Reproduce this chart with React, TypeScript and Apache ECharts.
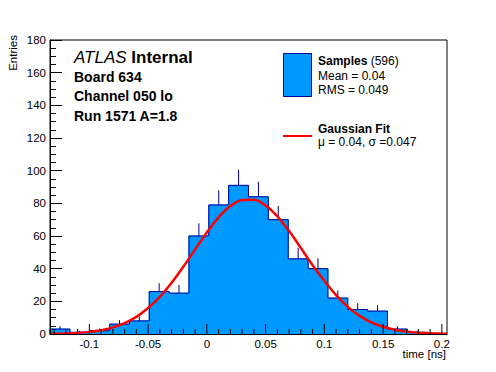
import React, { useEffect, useRef } from 'react';
import * as echarts from 'echarts';

// ---- data ----
const histMin = -0.1335;
const histMax = 0.2044;
const binCounts = [3, 1, 2, 6, 8, 26, 25, 60, 79, 91, 84, 70, 46, 40, 22, 15, 14, 3, 1, 0];

// Gaussian fit curve
const fitX = [-0.1335, -0.13, -0.12, -0.11, -0.1, -0.09, -0.08, -0.07, -0.06, -0.05, -0.04, -0.03, -0.02, -0.01, 0,
  0.01, 0.02, 0.03, 0.04, 0.05, 0.06, 0.07, 0.08, 0.09, 0.1, 0.11, 0.12, 0.13, 0.14, 0.15, 0.16, 0.17, 0.18, 0.19, 0.2, 0.2044];
const fitY = [0.13, 0.17, 0.35, 0.69, 1.3, 2.35, 4.05, 6.68, 10.5, 15.9, 22.8, 31.4, 41.2, 51.8, 62.2,
  71.4, 78.3, 82.1, 82.2, 78.7, 72.0, 63.0, 52.7, 42.1, 32.6, 23.8, 16.6, 11.1, 7.1, 4.4, 2.6, 1.45, 0.78, 0.4, 0.2, 0.14];

const xMajorTicks = [-0.1, -0.05, 0, 0.05, 0.1, 0.15, 0.2];
const xTickLabels = ['-0.1', '-0.05', '0', '0.05', '0.1', '0.15', '0.2'];
const xMinorTicks = [-0.13, -0.12, -0.11, -0.09, -0.08, -0.07, -0.06, -0.04, -0.03, -0.02, -0.01,
  0.01, 0.02, 0.03, 0.04, 0.06, 0.07, 0.08, 0.09, 0.11, 0.12, 0.13, 0.14, 0.16, 0.17, 0.18, 0.19];
const yMin = 0;
const yMax = 180;
const yStep = 20;

const titleLines = ['Board 634', 'Channel 050 lo', 'Run 1571 A=1.8'];
const sampleCount = 596;
const statLines = ['Mean = 0.04', 'RMS = 0.049'];
const fitLine = 'μ = 0.04, σ =0.047';

const FONT = '"Liberation Sans", Arial, Helvetica, sans-serif';
const FILL = '#0099ff';
const EDGE = '#000099';

export default function App() {
  const ref = useRef<HTMLDivElement>(null);
  useEffect(() => {
    document.body.style.margin = '0';
    const chart = echarts.init(ref.current!, undefined, { renderer: 'svg' });
    const binWidth = (histMax - histMin) / binCounts.length;
    const histData = binCounts.map((c, i) => [histMin + i * binWidth, histMin + (i + 1) * binWidth, c]);
    const tickData = [
      ...xMajorTicks.map((v, i) => [v, 1, i]),
      ...xMinorTicks.map((v) => [v, 0, -1]),
    ];
    const option: any = {
      animation: false,
      backgroundColor: '#fff',
      grid: {
        left: 50, top: 40, width: 397, height: 294,
        show: true, borderColor: '#000', borderWidth: 1,
        containLabel: false, outerBoundsMode: 'none',
      },
      xAxis: {
        type: 'value', min: histMin, max: histMax, z: 10,
        axisLine: { show: true, onZero: false, lineStyle: { color: '#000', width: 1 } },
        axisTick: { show: false }, axisLabel: { show: false }, splitLine: { show: false },
      },
      yAxis: {
        type: 'value', min: yMin, max: yMax, interval: yStep, z: 10,
        axisLine: { show: true, onZero: false, lineStyle: { color: '#000', width: 1 } },
        axisTick: { show: true, inside: true, length: 12, lineStyle: { color: '#000', width: 1 } },
        minorTick: { show: true, splitNumber: 4, length: 6, lineStyle: { color: '#000', width: 1 } },
        axisLabel: { margin: 4, fontSize: 11.5, color: '#000', fontFamily: FONT },
        splitLine: { show: false },
      },
      series: [
        {
          type: 'custom', z: 2, clip: false,
          data: histData,
          encode: { x: [0, 1], y: 2 },
          renderItem: (params: any, api: any) => {
            const i = params.dataIndex;
            const x0 = api.value(0), x1 = api.value(1), c = api.value(2);
            const prev = i > 0 ? binCounts[i - 1] : 0;
            const pTL = api.coord([x0, c]);
            const pBR = api.coord([x1, 0]);
            const pPrev = api.coord([x0, prev]);
            const children: any[] = [];
            if (c > 0) {
              children.push({ type: 'rect', shape: { x: pTL[0], y: pTL[1], width: pBR[0] - pTL[0], height: pBR[1] - pTL[1] }, style: { fill: FILL, stroke: FILL, lineWidth: 1 } });
            }
            children.push({ type: 'polyline', shape: { points: [[pPrev[0], pPrev[1]], [pTL[0], pTL[1]], [pBR[0], pTL[1]]] }, style: { stroke: EDGE, lineWidth: 1, fill: null } });
            if (i === binCounts.length - 1) {
              children.push({ type: 'line', shape: { x1: pBR[0], y1: pTL[1], x2: pBR[0], y2: pBR[1] }, style: { stroke: EDGE, lineWidth: 1 } });
            }
            if (c > 0) {
              const xc = (x0 + x1) / 2;
              const a = api.coord([xc, c]);
              const b = api.coord([xc, c + Math.sqrt(c)]);
              children.push({ type: 'line', shape: { x1: a[0], y1: a[1], x2: b[0], y2: b[1] }, style: { stroke: EDGE, lineWidth: 1 } });
            }
            return { type: 'group', children };
          },
        },
        {
          type: 'line', z: 4,
          data: fitX.map((x, i) => [x, fitY[i]]),
          showSymbol: false, smooth: 0.3,
          lineStyle: { color: '#ff0000', width: 2.5 },
          itemStyle: { color: '#ff0000' },
        },
        {
          type: 'custom', z: 6, clip: false,
          data: tickData,
          encode: { x: 0, y: 1 },
          renderItem: (params: any, api: any) => {
            const v = api.value(0);
            const major = api.value(1) === 1;
            const li = api.value(2);
            const p = api.coord([v, 0]);
            const len = major ? 10 : 5;
            const children: any[] = [
              { type: 'line', shape: { x1: p[0], y1: p[1], x2: p[0], y2: p[1] - len }, style: { stroke: '#000', lineWidth: 1 } },
            ];
            if (major) {
              children.push({ type: 'text', x: p[0], y: p[1] + 9.5, style: { text: xTickLabels[li], align: 'center', verticalAlign: 'middle', fontSize: 11.5, fontFamily: FONT, fill: '#000' } });
            }
            return { type: 'group', children };
          },
        },
      ],
      graphic: [
        { type: 'text', x: 446, y: 354, style: { text: 'time [ns]', align: 'right', verticalAlign: 'middle', fontSize: 11.5, fontFamily: FONT, fill: '#000' } },
        { type: 'text', x: 13, y: 35, rotation: Math.PI / 2, style: { text: 'Entries', align: 'right', verticalAlign: 'middle', fontSize: 11.5, fontFamily: FONT, fill: '#000' } },
        {
          type: 'text', x: 74, y: 57,
          style: {
            text: '{a|ATLAS} {b|Internal}', align: 'left', verticalAlign: 'middle', fontSize: 17, fontFamily: FONT, fill: '#000',
            rich: {
              a: { fontStyle: 'italic', fontSize: 17, fontFamily: FONT, fill: '#000' },
              b: { fontWeight: 'bold', fontSize: 17, fontFamily: FONT, fill: '#000' },
            },
          },
        },
        ...titleLines.map((t, i) => ({
          type: 'text', x: 74, y: 76.5 + i * 19.7,
          style: { text: t, align: 'left', verticalAlign: 'middle', fontSize: 14, fontWeight: 'bold', fontFamily: FONT, fill: '#000' },
        })),
        { type: 'rect', shape: { x: 283.5, y: 53.5, width: 28, height: 43 }, style: { fill: FILL, stroke: EDGE, lineWidth: 1 } },
        {
          type: 'text', x: 318, y: 61,
          style: {
            text: '{b|Samples} {r|(' + sampleCount + ')}', align: 'left', verticalAlign: 'middle', fontSize: 12, fontFamily: FONT, fill: '#000',
            rich: {
              b: { fontWeight: 'bold', fontSize: 12, fontFamily: FONT, fill: '#000' },
              r: { fontSize: 12, fontFamily: FONT, fill: '#000' },
            },
          },
        },
        ...statLines.map((t, i) => ({
          type: 'text', x: 318, y: 75.8 + i * 13.8,
          style: { text: t, align: 'left', verticalAlign: 'middle', fontSize: 12, fontFamily: FONT, fill: '#000' },
        })),
        { type: 'line', shape: { x1: 283, y1: 136, x2: 312, y2: 136 }, style: { stroke: '#ff0000', lineWidth: 2 } },
        { type: 'text', x: 318, y: 129, style: { text: 'Gaussian Fit', align: 'left', verticalAlign: 'middle', fontSize: 12, fontWeight: 'bold', fontFamily: FONT, fill: '#000' } },
        { type: 'text', x: 318, y: 142, style: { text: fitLine, align: 'left', verticalAlign: 'middle', fontSize: 12, fontFamily: FONT, fill: '#000' } },
      ],
    };
    chart.setOption(option);
    return () => chart.dispose();
  }, []);
  return <div ref={ref} style={{ width: 496, height: 372 }} />;
}
